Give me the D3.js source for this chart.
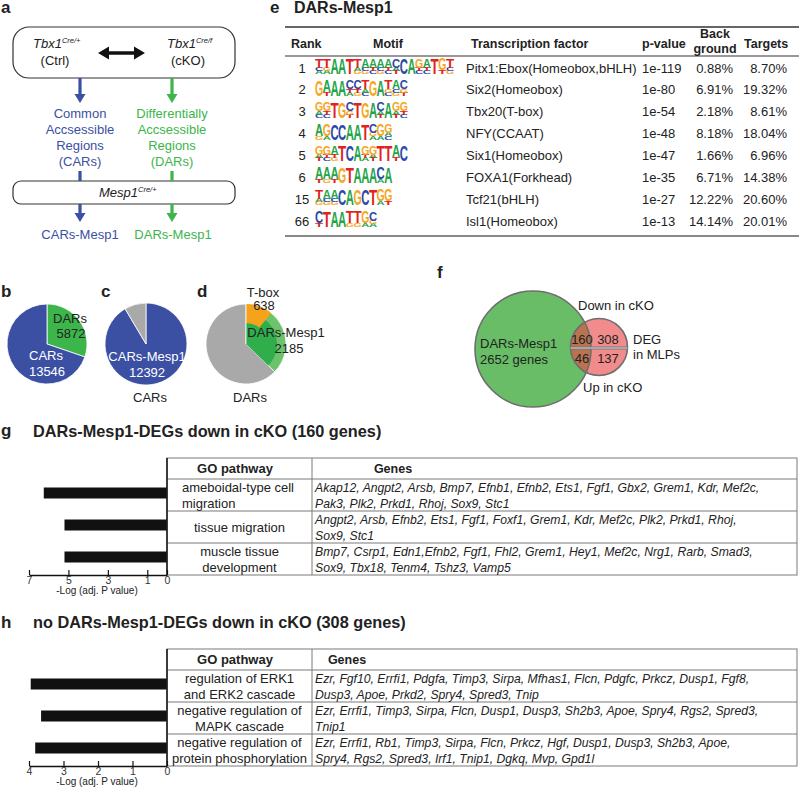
<!DOCTYPE html>
<html>
<head>
<meta charset="utf-8">
<script src="https://cdn.jsdelivr.net/npm/d3@7/dist/d3.min.js"></script>
<style>
  body { margin: 0; background: #fff; }
  text { font-family: "Liberation Sans", Arial, sans-serif; fill: #222; }
</style>
</head>
<body>
<div id="container"></div>
<script>
// b-d: pie values
var pieBNames = ["DARs", "CARs"],
    pieBValues = [5872, 13546];
var pieCNames = ["CARs-Mesp1", "CARs"],
    pieCValues = [12392, 1154];
var pieDNames = ["T-box", "DARs-Mesp1", "DARs"],
    pieDValues = [638, 2185, 3687];

// e: motif table
var motifRanks = [1, 2, 3, 4, 5, 6, 15, 66];
var motifLogos = [
  "Tca Tga A A T Tag Acg Atc Acg Atc Cat C A Gtc Atc T Gt Tcg",
  "G At A A Cta Ctg Tac G A Tgc Acg Cgt",
  "Gac Gtc T G Cgt T G A Cat A Gat Gtc",
  "Ag Ga C C A A T Cga Ga Gac",
  "Gat Gtc Atg T C A Gta Gat T T At C",
  "At Ag At G T A A A Ca A",
  "Tag Acg Acg C A G C T Ga Gt",
  "Ct T A A Tg Tg Ga Cga"
];
var motifFactors = ["Pitx1:Ebox(Homeobox,bHLH)", "Six2(Homeobox)", "Tbx20(T-box)", "NFY(CCAAT)",
  "Six1(Homeobox)", "FOXA1(Forkhead)", "Tcf21(bHLH)", "Isl1(Homeobox)"];
var motifPvalues = ["1e-119", "1e-80", "1e-54", "1e-48", "1e-47", "1e-35", "1e-27", "1e-13"];
var motifBackground = ["0.88%", "6.91%", "2.18%", "8.18%", "1.66%", "6.71%", "12.22%", "14.14%"];
var motifTargets = ["8.70%", "19.32%", "8.61%", "18.04%", "6.96%", "14.38%", "20.60%", "20.01%"];

// f: venn
var vennGenes = 2652;
var vennCounts = [160, 308, 46, 137]; // down&DAR, down only, up&DAR, up only

// g: GO down in cKO with DARs
var gPathways = [["ameboidal-type cell", "migration"], ["tissue migration"], ["muscle tissue", "development"]];
var gValues = [6.25, 5.2, 5.2];
var gGenes = [
  ["Akap12, Angpt2, Arsb, Bmp7, Efnb1, Efnb2, Ets1, Fgf1, Gbx2, Grem1, Kdr, Mef2c,", "Pak3, Plk2, Prkd1, Rhoj, Sox9, Stc1"],
  ["Angpt2, Arsb, Efnb2, Ets1, Fgf1, Foxf1, Grem1, Kdr, Mef2c, Plk2, Prkd1, Rhoj,", "Sox9, Stc1"],
  ["Bmp7, Csrp1, Edn1,Efnb2, Fgf1, Fhl2, Grem1, Hey1, Mef2c, Nrg1, Rarb, Smad3,", "Sox9, Tbx18, Tenm4, Tshz3, Vamp5"]
];
var gTicks = [7, 5, 3, 1, 0];

// h: GO down in cKO without DARs
var hPathways = [["regulation of ERK1", "and ERK2 cascade"], ["negative regulation of", "MAPK cascade"], ["negative regulation of", "protein phosphorylation"]];
var hValues = [3.95, 3.65, 3.82];
var hGenes = [
  ["Ezr, Fgf10, Errfi1, Pdgfa, Timp3, Sirpa, Mfhas1, Flcn, Pdgfc, Prkcz, Dusp1, Fgf8,", "Dusp3, Apoe, Prkd2, Spry4, Spred3, Tnip"],
  ["Ezr, Errfi1, Timp3, Sirpa, Flcn, Dusp1, Dusp3, Sh2b3, Apoe, Spry4, Rgs2, Spred3,", "Tnip1"],
  ["Ezr, Errfi1, Rb1, Timp3, Sirpa, Flcn, Prkcz, Hgf, Dusp1, Dusp3, Sh2b3, Apoe,", "Spry4, Rgs2, Spred3, Irf1, Tnip1, Dgkq, Mvp, Gpd1l"]
];
var hTicks = [4, 3, 2, 1, 0];

var blue = "#3b4fa3", green = "#3cb54b", grey = "#a9a9a9", orange = "#f6a31c";

var svg = d3.select("#container").append("svg")
    .attr("width", 799)
    .attr("height", 787);
svg.append("rect").attr("width", 799).attr("height", 787).attr("fill", "#fff");

function txt(g, s, x, y, size, opt) {
  opt = opt || {};
  return g.append("text")
    .attr("x", x).attr("y", y)
    .attr("font-size", size)
    .attr("text-anchor", opt.anchor || "start")
    .attr("font-weight", opt.bold ? "bold" : null)
    .attr("font-style", opt.italic ? "italic" : null)
    .style("fill", opt.fill || null)
    .text(s);
}

// panel letters
[["a", 1, 13], ["b", 1, 297], ["c", 101, 297], ["d", 197, 297], ["e", 270, 13],
 ["f", 437, 278], ["g", 1, 436], ["h", 1, 628]].forEach(function(p) {
  txt(svg, p[0], p[1], p[2], 17, {bold: true});
});

// ---------- a: flow diagram ----------
var a = svg.append("g");
a.append("rect").attr("x", 13).attr("y", 27).attr("width", 222).attr("height", 51)
  .attr("rx", 16).attr("fill", "none").attr("stroke", "#333").attr("stroke-width", 1.2);
a.append("rect").attr("x", 13).attr("y", 181).attr("width", 222).attr("height", 23)
  .attr("rx", 8).attr("fill", "none").attr("stroke", "#333").attr("stroke-width", 1.2);

function supText(g, base, sup, x, y, anchor) {
  var t = g.append("text").attr("x", x).attr("y", y).attr("font-size", 13)
    .attr("font-style", "italic").attr("text-anchor", anchor || "start");
  t.append("tspan").text(base);
  t.append("tspan").attr("dy", -5).attr("font-size", 7.5).text(sup);
}
supText(a, "Tbx1", "Cre/+", 33, 48);
supText(a, "Tbx1", "Cre/f", 167, 48);
supText(a, "Mesp1", "Cre/+", 99, 197);
txt(a, "(Ctrl)", 55, 65, 13, {anchor: "middle"});
txt(a, "(cKO)", 188, 65, 13, {anchor: "middle"});

// double arrow
a.append("line").attr("x1", 106).attr("x2", 137).attr("y1", 53).attr("y2", 53)
  .attr("stroke", "#111").attr("stroke-width", 3.5);
a.append("path").attr("d", "M98,53L109,46.5L109,59.5Z M145,53L134,46.5L134,59.5Z").attr("fill", "#111");

function downArrow(x, y1, y2, col) {
  a.append("line").attr("x1", x).attr("x2", x).attr("y1", y1).attr("y2", y2 - 7)
    .attr("stroke", col).attr("stroke-width", 3.2);
  a.append("path").attr("d", "M" + (x - 5.5) + "," + (y2 - 9) + "L" + (x + 5.5) + "," + (y2 - 9) + "L" + x + "," + y2 + "Z")
    .attr("fill", col);
}
function bar(x, y1, y2, col) {
  a.append("line").attr("x1", x).attr("x2", x).attr("y1", y1).attr("y2", y2)
    .attr("stroke", col).attr("stroke-width", 3.2);
}
downArrow(80, 78, 103, blue);
downArrow(172, 78, 103, green);
bar(80, 171, 181, blue);
bar(172, 171, 181, green);
downArrow(80, 204, 222, blue);
downArrow(172, 204, 222, green);

["Common", "Accsessible", "Regions", "(CARs)"].forEach(function(s, i) {
  txt(a, s, 80, 118 + i * 16, 13, {anchor: "middle", fill: blue});
});
["Differentially", "Accsessible", "Regions", "(DARs)"].forEach(function(s, i) {
  txt(a, s, 172, 118 + i * 16, 13, {anchor: "middle", fill: green});
});
txt(a, "CARs-Mesp1", 80, 239, 13, {anchor: "middle", fill: blue});
txt(a, "DARs-Mesp1", 173, 239, 13, {anchor: "middle", fill: green});

// ---------- b, c, d: pies ----------
function drawPie(cx, cy, r, values, colors) {
  var g = svg.append("g").attr("transform", "translate(" + cx + "," + cy + ")");
  var arcs = d3.pie().sort(null).value(function(d) { return d; })(values);
  g.selectAll("path")
    .data(arcs)
    .enter()
    .append("path")
      .attr("d", d3.arc().innerRadius(0).outerRadius(r))
      .attr("fill", function(d, i) { return colors[i]; })
      .attr("stroke", "#fff")
      .attr("stroke-width", 0.8);
  return g;
}

var pb = drawPie(47, 344, 40, pieBValues, [green, blue]);
txt(pb, pieBNames[0], 23, -21, 13, {anchor: "middle"});
txt(pb, pieBValues[0], 24, -6, 13, {anchor: "middle"});
txt(pb, pieBNames[1], -1, 16, 13, {anchor: "middle", fill: "#fff"});
txt(pb, pieBValues[1], 0, 32, 13, {anchor: "middle", fill: "#fff"});

var pc = drawPie(146, 344, 41, pieCValues, [blue, grey]);
txt(pc, pieCNames[0], 1, 17, 13, {anchor: "middle", fill: "#fff"});
txt(pc, pieCValues[0], 1, 33, 13, {anchor: "middle", fill: "#fff"});
txt(pc, pieCNames[1], 4, 58, 13, {anchor: "middle"});

// d: DARs split, Mesp1 share with T-box subset
var dTotal = pieDValues[1] + pieDValues[2];
var pd = drawPie(246, 344, 40, [pieDValues[1], pieDValues[2]], ["#6cc36c", grey]);
var ang = d3.scaleLinear().domain([0, dTotal]).range([0, 2 * Math.PI]);
pd.append("path")
  .attr("d", d3.arc().innerRadius(0).outerRadius(31).startAngle(0).endAngle(ang(pieDValues[1]))())
  .attr("fill", "#2fae4b");
pd.append("path")
  .attr("d", d3.arc().innerRadius(21).outerRadius(40).startAngle(0).endAngle(ang(pieDValues[0]))())
  .attr("fill", orange);
pd.append("line").attr("x1", 0).attr("y1", 0).attr("x2", 0).attr("y2", -40)
  .attr("stroke", "#fff").attr("stroke-width", 0.8);
txt(pd, pieDNames[0], 17, -47, 13, {anchor: "middle"});
txt(pd, pieDValues[0], 18, -34, 13, {anchor: "middle"});
txt(pd, pieDNames[1], 40, -7, 13, {anchor: "middle"});
txt(pd, pieDValues[1], 43, 9, 13, {anchor: "middle"});
txt(pd, pieDNames[2], 4, 58, 13, {anchor: "middle"});

// ---------- e: motif table ----------
var e = svg.append("g");
txt(e, "DARs-Mesp1", 294, 13, 16, {bold: true});
e.append("line").attr("x1", 285).attr("x2", 799).attr("y1", 27).attr("y2", 27)
  .attr("stroke", "#333").attr("stroke-width", 1.4);
e.append("line").attr("x1", 285).attr("x2", 799).attr("y1", 56).attr("y2", 56)
  .attr("stroke", "#333").attr("stroke-width", 1);
e.append("line").attr("x1", 285).attr("x2", 799).attr("y1", 236).attr("y2", 236)
  .attr("stroke", "#888").attr("stroke-width", 2);
txt(e, "Rank", 291, 48, 12.5, {bold: true});
txt(e, "Motif", 388, 48, 12.5, {bold: true, anchor: "middle"});
txt(e, "Transcription factor", 471, 48, 12.5, {bold: true});
txt(e, "p-value", 642, 48, 12.5, {bold: true});
txt(e, "Back", 715, 38, 12.5, {bold: true, anchor: "middle"});
txt(e, "ground", 715, 53, 12.5, {bold: true, anchor: "middle"});
txt(e, "Targets", 744, 48, 12.5, {bold: true});

var logoColors = {A: "#23a448", C: "#2b48a8", G: "#f6a623", T: "#e0231c"};
var letterAdv = {A: 0.722, C: 0.722, G: 0.778, T: 0.611};
var colX = d3.scaleLinear().domain([0, 1]).range([315, 322.7]);

function drawLogo(g, cols, yBottom, fullH) {
  var w = colX(1) - colX(0);
  cols.forEach(function(col, i) {
    var letters = col.split("");
    var big = col[0] === col[0].toUpperCase();
    var weights = letters.map(function(c) { return c === c.toUpperCase() ? 3 : 1; });
    var tot = d3.sum(weights);
    var colH = big ? fullH : fullH * 0.55;
    var y = yBottom;
    for (var k = letters.length - 1; k >= 0; k--) {
      var L = letters[k].toUpperCase();
      var h = colH * weights[k] / tot;
      g.append("text")
        .attr("transform", "translate(" + colX(i) + "," + y + ") scale(" + (w * 1.06 / (letterAdv[L] * 100)) + "," + (h / 71.6) + ")")
        .attr("font-size", 100)
        .attr("font-weight", "bold")
        .style("fill", logoColors[L])
        .text(L);
      y -= h;
    }
  });
}

var rowY = d3.scaleLinear().domain([0, motifRanks.length - 1]).range([68, 221]);
motifRanks.forEach(function(r, i) {
  var y = rowY(i) + 4.5;
  txt(e, r, 302, y, 13, {anchor: "middle"});
  drawLogo(e, motifLogos[i].split(" "), rowY(i) + 6, 16);
  txt(e, motifFactors[i], 466, y, 13);
  txt(e, motifPvalues[i], 642, y, 13);
  txt(e, motifBackground[i], 733, y, 13, {anchor: "end"});
  txt(e, motifTargets[i], 787, y, 13, {anchor: "end"});
});

// ---------- f: venn ----------
var f = svg.append("g");
var big = {cx: 533, cy: 349, r: 58}, small = {cx: 599, cy: 347, r: 28.5};
f.append("clipPath").attr("id", "bigclip").append("circle")
  .attr("cx", big.cx).attr("cy", big.cy).attr("r", big.r);
f.append("circle").attr("cx", big.cx).attr("cy", big.cy).attr("r", big.r).attr("fill", "#68bd66");
f.append("circle").attr("cx", small.cx).attr("cy", small.cy).attr("r", small.r).attr("fill", "#f28c8c");
f.append("circle").attr("cx", small.cx).attr("cy", small.cy).attr("r", small.r)
  .attr("fill", "#b9744f").attr("clip-path", "url(#bigclip)");
[big, small].forEach(function(c) {
  f.append("circle").attr("cx", c.cx).attr("cy", c.cy).attr("r", c.r)
    .attr("fill", "none").attr("stroke", "#6e6e6e").attr("stroke-width", 1.6);
});
f.append("line").attr("x1", small.cx - small.r).attr("x2", small.cx + small.r)
  .attr("y1", 348).attr("y2", 348).attr("stroke", "#777").attr("stroke-width", 3);
f.append("line").attr("x1", small.cx - small.r).attr("x2", small.cx + small.r)
  .attr("y1", 348).attr("y2", 348).attr("stroke", "#d8d8d8").attr("stroke-width", 1);
txt(f, "DARs-Mesp1", 480, 348, 13);
txt(f, vennGenes + " genes", 480, 364, 13);
txt(f, "Down in cKO", 578, 310, 13);
txt(f, "Up in cKO", 583, 392, 13);
txt(f, "DEG", 633, 344, 13);
txt(f, "in MLPs", 633, 359, 13);
txt(f, vennCounts[0], 582, 344, 13, {anchor: "middle"});
txt(f, vennCounts[1], 608, 344, 13, {anchor: "middle"});
txt(f, vennCounts[2], 582, 363, 13, {anchor: "middle"});
txt(f, vennCounts[3], 608, 363, 13, {anchor: "middle"});

// ---------- g, h: GO tables with bars ----------
function goPanel(top, title, pathways, values, genes, ticks, genesX, firstLeft) {
  var g = svg.append("g");
  var left = 167, sep = 312, right = 797;
  var headB = top + 21, bottom = headB + 96;
  txt(g, title, 33, top - 21, 16.3, {bold: true});

  var x = d3.scaleLinear().domain([0, ticks[0]]).range([left, left - 138]);
  var y = d3.scaleBand().domain(d3.range(pathways.length)).range([headB, bottom]);

  g.selectAll("rect.bar")
    .data(values)
    .enter()
    .append("rect")
      .attr("x", function(d) { return x(d); })
      .attr("y", function(d, i) { return y(i) + y.bandwidth() / 2 - 7.5; })
      .attr("width", function(d) { return x(0) - x(d); })
      .attr("height", 11)
      .attr("fill", "#111");

  // table grid
  var grid = "#7a7a7a";
  g.append("rect").attr("x", left).attr("y", top).attr("width", right - left).attr("height", bottom - top)
    .attr("fill", "none").attr("stroke", grid).attr("stroke-width", 1);
  g.append("line").attr("x1", sep).attr("x2", sep).attr("y1", top).attr("y2", bottom).attr("stroke", grid);
  [headB].concat(pathways.slice(1).map(function(d, i) { return y(i + 1); })).forEach(function(yy) {
    g.append("line").attr("x1", left).attr("x2", right).attr("y1", yy).attr("y2", yy).attr("stroke", grid);
  });
  txt(g, "GO pathway", 235, top + 15, 13, {bold: true, anchor: "middle"});
  txt(g, "Genes", genesX, top + 15, 12.5, {bold: true, anchor: "middle"});

  pathways.forEach(function(lines, i) {
    var c = y(i) + y.bandwidth() / 2 + 4.5;
    lines.forEach(function(s, k) {
      var yy = lines.length === 1 ? c : c - 8 + k * 16;
      if (firstLeft[i]) txt(g, s, firstLeft[i], yy, 13);
      else txt(g, s, 239.5, yy, 13, {anchor: "middle"});
    });
    genes[i].forEach(function(s, k) {
      txt(g, s, 315, c - 8 + k * 16, 12.2, {italic: true});
    });
  });

  // axis
  var ax = g.append("g")
    .attr("transform", "translate(0," + bottom + ")")
    .call(d3.axisBottom(x).tickValues(ticks).tickSizeInner(-5).tickSizeOuter(0).tickPadding(2).tickFormat(d3.format("d")));
  ax.select(".domain").attr("stroke", "#111").attr("stroke-width", 1.5);
  ax.selectAll(".tick line").attr("stroke", "#111").attr("stroke-width", 1.2);
  ax.selectAll(".tick text").attr("font-size", 10.5).style("fill", "#333")
    .style("font-family", "Liberation Sans, Arial, sans-serif");
  g.append("line").attr("x1", left).attr("x2", left).attr("y1", top).attr("y2", bottom)
    .attr("stroke", "#111").attr("stroke-width", 1.5);
  txt(g, "-Log (adj. P value)", 97, bottom + 19, 10, {anchor: "middle"});
}

goPanel(458, "DARs-Mesp1-DEGs down in cKO (160 genes)", gPathways, gValues, gGenes, gTicks, 393, [182, 0, 0]);
goPanel(649, "no DARs-Mesp1-DEGs down in cKO (308 genes)", hPathways, hValues, hGenes, hTicks, 347, [0, 0, 0]);
</script>
</body>
</html>
